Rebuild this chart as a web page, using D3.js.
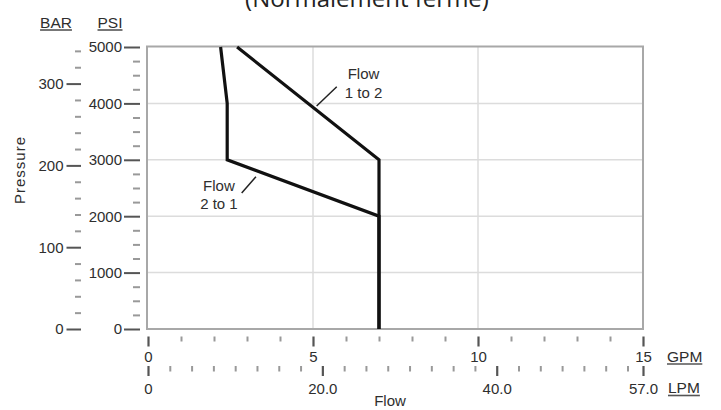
<!DOCTYPE html>
<html>
<head>
<meta charset="utf-8">
<script src="https://cdn.jsdelivr.net/npm/d3@7"></script>
<style>
  html, body { margin: 0; padding: 0; background: #fff; }
  svg { display: block; }
</style>
</head>
<body>
<svg id="chart" width="721" height="410"></svg>
<script>
// ---------- data ----------
const titleText = "(Normalement fermé)";
const psiTicks = [0, 1000, 2000, 3000, 4000, 5000];
const psiMinor = [250, 500, 750, 1250, 1500, 1750, 2250, 2500, 2750, 3250, 3500, 3750, 4250, 4500, 4750];
const barTicks = [0, 100, 200, 300];
const barMinor = [20, 40, 60, 80, 120, 140, 160, 180, 220, 240, 260, 280, 320, 340];
const gpmTicks = [0, 5, 10, 15];
const gpmMinor = [1, 2, 3, 4, 6, 7, 8, 9, 11, 12, 13, 14];
const lpmTicks = [0, 20, 40, 56.78];
const lpmLabels = ["0", "20.0", "40.0", "57.0"];
const lpmMinor = [2.5, 5, 7.5, 10, 12.5, 15, 17.5, 22.5, 25, 27.5, 30, 32.5, 35, 37.5, 42.5, 45, 47.5, 50, 52.5, 55];
const gridGpm = [5, 10];
const gridPsi = [1000, 2000, 3000, 4000];

// curves (GPM, PSI)
const flow2to1 = [[2.2, 5000], [2.4, 4000], [2.4, 3000], [7.0, 2000], [7.0, 0]];
const flow1to2 = [[2.7, 5000], [7.0, 3000], [7.0, 0]];

// annotation labels in data units
const labels1to2 = [{t: "Flow", gpm: 6.53, psi: 4433}, {t: "1 to 2", gpm: 6.53, psi: 4096}];
const labels2to1 = [{t: "Flow", gpm: 2.15, psi: 2447}, {t: "2 to 1", gpm: 2.15, psi: 2119}];
const leaders = [
  [[5.72, 4296], [5.11, 3954]],
  [[2.84, 2411], [3.27, 2700]]
];

// ---------- setup ----------
const svg = d3.select("#chart");
const FONT = "'Liberation Sans', Arial, Helvetica, sans-serif";
const TXT = "#2e2e2e";

const x = d3.scaleLinear().domain([0, 15]).range([148, 643]);
const xL = d3.scaleLinear().domain([0, 56.78]).range([148, 643]);
const y = d3.scaleLinear().domain([0, 5000]).range([329, 47]);
const yB = d3.scaleLinear().domain([0, 5000 / 14.5038]).range([329, 47]);

// title (partially cut off at top, as in the reference)
svg.append("text")
  .attr("x", 367).attr("y", 7)
  .attr("text-anchor", "middle")
  .style("font-family", "'Open Sans', sans-serif")
  .style("font-size", "24px")
  .attr("fill", "#222")
  .text(titleText);

// grid
const grid = svg.append("g");
grid.selectAll("line.v").data(gridGpm).join("line")
  .attr("x1", d => x(d)).attr("x2", d => x(d))
  .attr("y1", y(0)).attr("y2", y(5000))
  .attr("stroke", "#dcdcdc").attr("stroke-width", 1.5);
grid.selectAll("line.h").data(gridPsi).join("line")
  .attr("x1", x(0)).attr("x2", x(15))
  .attr("y1", d => y(d)).attr("y2", d => y(d))
  .attr("stroke", "#dcdcdc").attr("stroke-width", 1.5);

// border
svg.append("rect")
  .attr("x", x(0) - 1).attr("y", y(5000) - 0.5)
  .attr("width", x(15) - x(0) + 1).attr("height", y(0) - y(5000) + 0.5)
  .attr("fill", "none").attr("stroke", "#a8a8a8").attr("stroke-width", 2);

function styleAxis(g, w, col) {
  g.select(".domain").remove();
  g.selectAll(".tick line").attr("stroke", col).attr("stroke-width", w);
  g.selectAll(".tick text").attr("fill", TXT)
    .style("font-family", FONT).style("font-size", "15px");
}

// PSI axis
svg.append("g").attr("transform", "translate(140,0)")
  .call(d3.axisLeft(y).tickValues(psiMinor).tickSize(7).tickFormat(""))
  .call(g => styleAxis(g, 2, "#999"));
svg.append("g").attr("transform", "translate(140,0)")
  .call(d3.axisLeft(y).tickValues(psiTicks).tickSize(16).tickPadding(2).tickFormat(d3.format("d")))
  .call(g => styleAxis(g, 2, "#555"));

// BAR axis
svg.append("g").attr("transform", "translate(81,0)")
  .call(d3.axisLeft(yB).tickValues(barMinor).tickSize(6).tickFormat(""))
  .call(g => styleAxis(g, 2, "#999"));
svg.append("g").attr("transform", "translate(81,0)")
  .call(d3.axisLeft(yB).tickValues(barTicks).tickSize(14.5).tickPadding(3).tickFormat(d3.format("d")))
  .call(g => styleAxis(g, 2, "#555"));

// GPM axis
svg.append("g").attr("transform", "translate(0,336.5)")
  .call(d3.axisBottom(x).tickValues(gpmMinor).tickSize(5).tickFormat(""))
  .call(g => styleAxis(g, 2, "#999"));
svg.append("g").attr("transform", "translate(0,336.5)")
  .call(d3.axisBottom(x).tickValues(gpmTicks).tickSize(10).tickPadding(5).tickFormat(d3.format("d")))
  .call(g => styleAxis(g, 2.2, "#555"));

// LPM axis
svg.append("g").attr("transform", "translate(0,366)")
  .call(d3.axisBottom(xL).tickValues(lpmMinor).tickSize(5.5).tickFormat(""))
  .call(g => styleAxis(g, 2, "#999"));
svg.append("g").attr("transform", "translate(0,366)")
  .call(d3.axisBottom(xL).tickValues(lpmTicks).tickSize(10).tickPadding(7).tickFormat((d, i) => lpmLabels[i]))
  .call(g => styleAxis(g, 2.2, "#555"));

// unit labels with underline
function unitLabel(txt, px, py, anchor) {
  const t = svg.append("text")
    .attr("x", px).attr("y", py)
    .attr("text-anchor", anchor)
    .attr("fill", TXT)
    .style("font-family", FONT).style("font-size", "15.5px")
    .text(txt);
  const bb = t.node().getBBox();
  svg.append("line")
    .attr("x1", bb.x).attr("x2", bb.x + bb.width)
    .attr("y1", py + 2.5).attr("y2", py + 2.5)
    .attr("stroke", "#555").attr("stroke-width", 1.6);
}
unitLabel("BAR", 56, 27.5, "middle");
unitLabel("PSI", 110, 27.5, "middle");
unitLabel("GPM", 667, 361.5, "start");
unitLabel("LPM", 668, 393, "start");

// axis titles
svg.append("text")
  .attr("transform", "translate(25,170) rotate(-90)")
  .attr("text-anchor", "middle")
  .attr("fill", TXT)
  .style("font-family", FONT).style("font-size", "15px")
  .style("letter-spacing", "1px")
  .text("Pressure");
svg.append("text")
  .attr("x", 390).attr("y", 406)
  .attr("text-anchor", "middle")
  .attr("fill", TXT)
  .style("font-family", FONT).style("font-size", "15px")
  .text("Flow");

// curves
const line = d3.line().x(d => x(d[0])).y(d => y(d[1]));
[flow1to2, flow2to1].forEach(s => {
  svg.append("path").datum(s)
    .attr("d", line)
    .attr("fill", "none")
    .attr("stroke", "#111")
    .attr("stroke-width", 3.2)
    .attr("stroke-linejoin", "miter");
});

// leaders
leaders.forEach(l => {
  svg.append("path").datum(l).attr("d", line)
    .attr("fill", "none").attr("stroke", "#222").attr("stroke-width", 1.5);
});

// annotation labels
svg.selectAll("text.ann").data(labels1to2.concat(labels2to1)).join("text")
  .attr("class", "ann")
  .attr("x", d => x(d.gpm)).attr("y", d => y(d.psi))
  .attr("text-anchor", "middle")
  .attr("fill", TXT)
  .style("font-family", FONT).style("font-size", "15px")
  .text(d => d.t);
</script>
</body>
</html>
